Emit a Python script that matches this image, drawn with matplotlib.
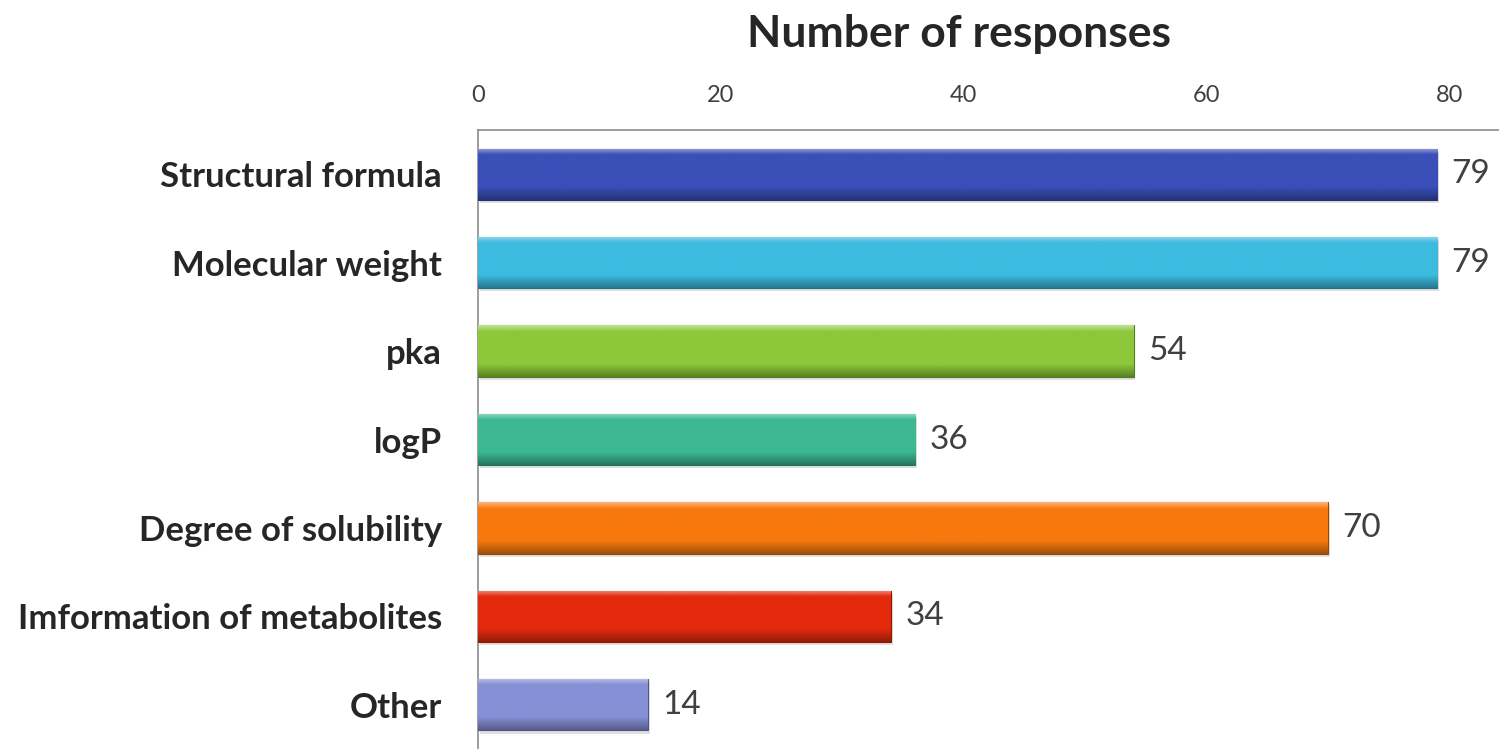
import numpy as np
import matplotlib.pyplot as plt
from matplotlib.colors import to_rgb

plt.rcParams['font.family'] = ['Lato', 'DejaVu Sans']

# survey answers, top to bottom
categories = ["Structural formula", "Molecular weight", "pka", "logP",
              "Degree of solubility", "Imformation of metabolites", "Other"]
responses = [79, 79, 54, 36, 70, 34, 14]
colors = ["#3a4fb8", "#3cbbe0", "#8cc83a", "#3cb892",
          "#f8780e", "#e42a0c", "#8690d6"]
ticks = [0, 20, 40, 60, 80]


def shade(c, f):
    c = np.array(to_rgb(c))
    if f > 0:
        return c + (1 - c) * f
    return c * (1 + f)


fig = plt.figure(figsize=(14.99, 7.49), dpi=100)
ax = fig.add_axes([0.3189, 0.0, 0.6811, 0.8264])

ypos = np.arange(len(categories))
h = 0.58
bars = ax.barh(ypos, responses, height=h, color=colors, zorder=3,
               edgecolor=[shade(c, -0.4) for c in colors], linewidth=0.8)

# glossy look: vertical gradient clipped to each bar, plus soft shadow
for b, c, v, y in zip(bars, colors, responses, ypos):
    grad = np.linspace(0, 1, 64)
    top = shade(c, 0.45)
    mid = shade(c, 0.0)
    bot = shade(c, -0.35)
    img = np.zeros((64, 1, 3))
    for i, t in enumerate(grad):
        if t < 0.12:
            col = top + (mid - top) * (t / 0.12)
        elif t < 0.75:
            col = mid
        else:
            col = mid + (bot - mid) * ((t - 0.75) / 0.25)
        img[i, 0] = np.clip(col, 0, 1)
    im = ax.imshow(img, extent=[0, v, y + h / 2, y - h / 2], aspect='auto',
                   zorder=4, interpolation='bilinear')
    im.set_clip_path(b)
    ax.barh(y + 0.035, v, height=h, left=0.15, color='#000000', alpha=0.12,
            zorder=2)
    ax.text(v + 1.2, y, str(v), va='center', ha='left', fontsize=24,
            color='#404040')

ax.set_xlim(0, 84.1)
ax.set_ylim(len(categories) - 0.5, -0.5)
ax.set_xticks(ticks)
ax.xaxis.tick_top()
ax.tick_params(axis='x', length=0, pad=17, labelsize=17, labelcolor='#404040')
ax.set_yticks(ypos)
ax.set_yticklabels(categories, fontsize=25, fontweight='bold', color='#262626')
ax.tick_params(axis='y', length=0, pad=26)

for s in ['right', 'bottom']:
    ax.spines[s].set_visible(False)
for s in ['left', 'top']:
    ax.spines[s].set_color('#8c8c8c')
    ax.spines[s].set_linewidth(1.2)

fig.text(0.64, 0.955, "Number of responses", ha='center', va='center',
         fontsize=32, fontweight='bold', color='#262626')

fig.savefig('out.png', dpi=100)
